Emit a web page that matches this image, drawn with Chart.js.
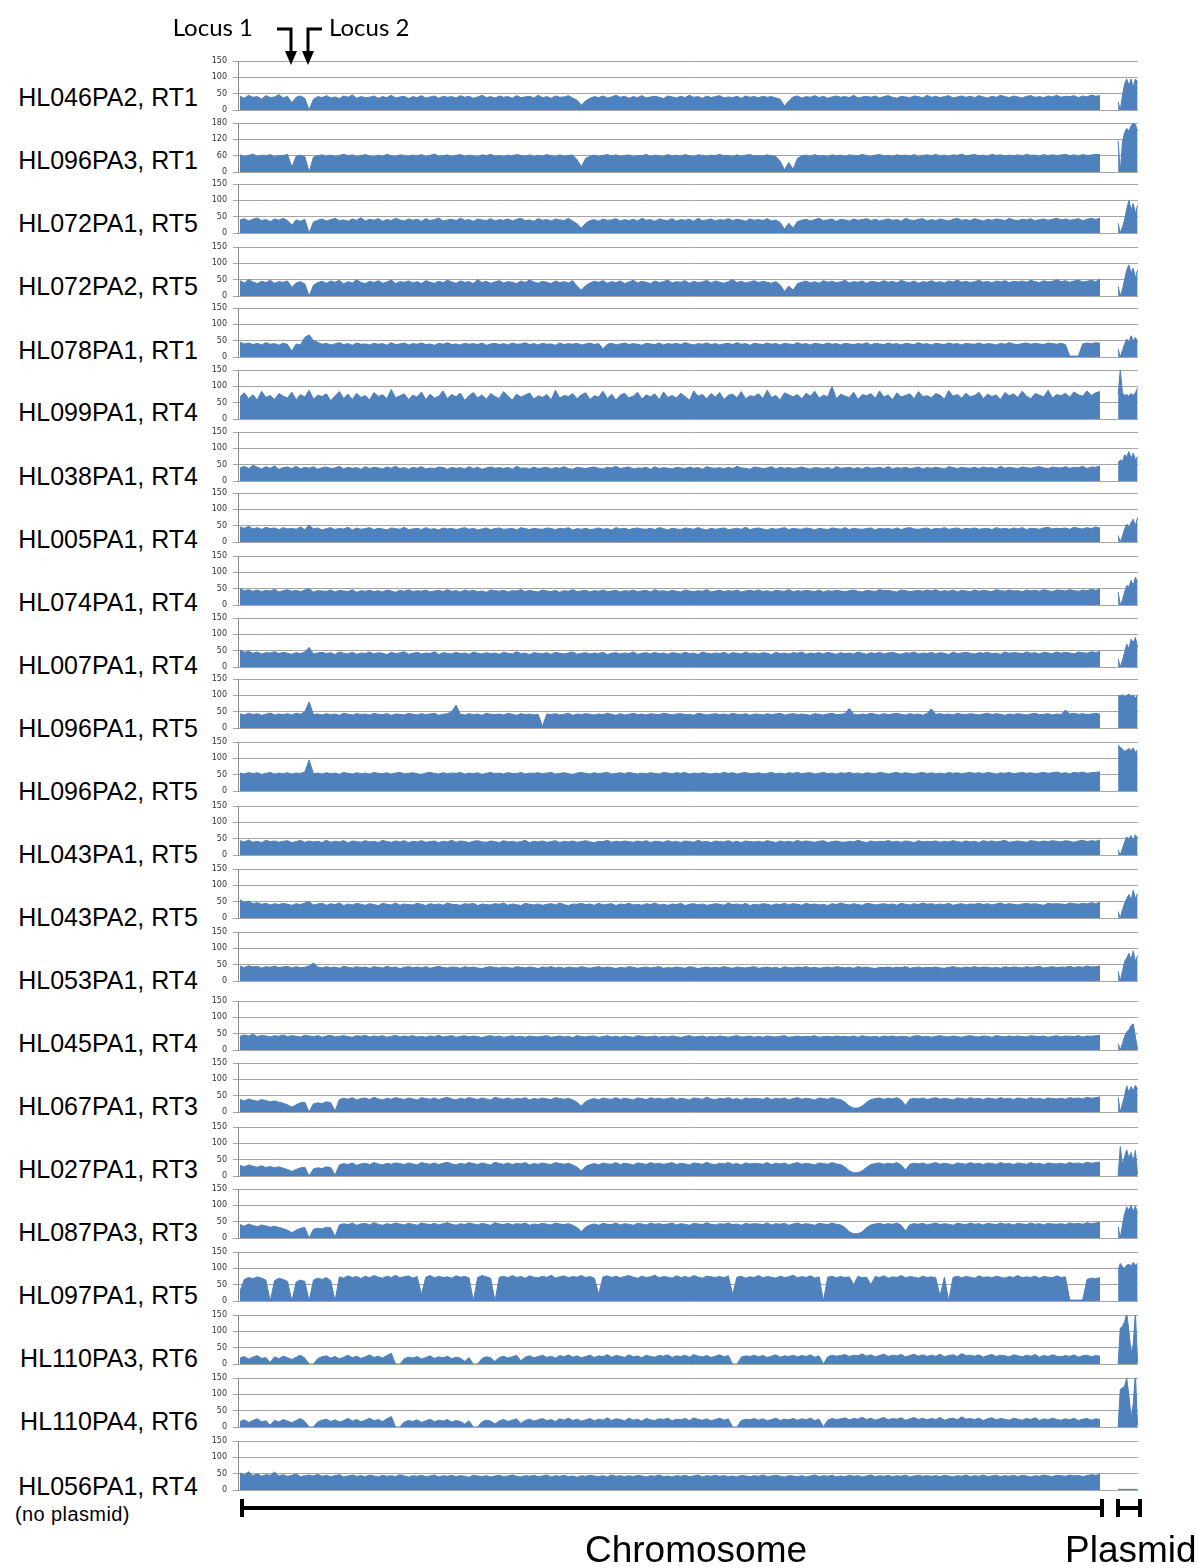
<!DOCTYPE html>
<html>
<head>
<meta charset="utf-8">
<script src="https://cdn.jsdelivr.net/npm/chart.js@4.4.1/dist/chart.umd.min.js"></script>
<style>
body { margin: 0; background: #fff; width: 1200px; height: 1568px; position: relative; overflow: hidden; }
.rowLabel { position: absolute; right: 1002px; font-family: Arial, "Liberation Sans", sans-serif; font-size: 25px; line-height: 25px; color: #000; white-space: nowrap; }
.note { position: absolute; left: 15px; font-family: Arial, "Liberation Sans", sans-serif; font-size: 20px; line-height: 20px; letter-spacing: 0.4px; color: #000; }
canvas { position: absolute; z-index: 1; }
svg { position: absolute; left: 0; top: 0; z-index: 2; }
</style>
</head>
<body>
<svg width="1200" height="1568">
  <text x="253" y="36" text-anchor="end" font-family="Lato, 'Open Sans', sans-serif" font-size="24">Locus 1</text>
  <text x="329" y="36" font-family="Lato, 'Open Sans', sans-serif" font-size="24">Locus 2</text>
  <path d="M277,29 H291 V53" stroke="#000" stroke-width="3" fill="none"/>
  <path d="M285,51 L297,51 L291,65 Z" fill="#000"/>
  <path d="M322,29 H308 V53" stroke="#000" stroke-width="3" fill="none"/>
  <path d="M302,51 L314,51 L308,65 Z" fill="#000"/>
  <path d="M242,1508 H1102 M242,1499 V1517 M1102,1499 V1517" stroke="#000" stroke-width="4" fill="none"/>
  <path d="M1118,1508 H1140 M1118,1499 V1517 M1140,1499 V1517" stroke="#000" stroke-width="4" fill="none"/>
  <text x="696" y="1562" text-anchor="middle" font-family="Arial, 'Liberation Sans', sans-serif" font-size="37">Chromosome</text>
  <text x="1065" y="1562" font-family="Arial, 'Liberation Sans', sans-serif" font-size="37">Plasmid</text>
</svg>
<script>
// sample names and y axis
var sampleLabels = ["HL046PA2, RT1", "HL096PA3, RT1", "HL072PA1, RT5", "HL072PA2, RT5", "HL078PA1, RT1",
    "HL099PA1, RT4", "HL038PA1, RT4", "HL005PA1, RT4", "HL074PA1, RT4", "HL007PA1, RT4",
    "HL096PA1, RT5", "HL096PA2, RT5", "HL043PA1, RT5", "HL043PA2, RT5", "HL053PA1, RT4",
    "HL045PA1, RT4", "HL067PA1, RT3", "HL027PA1, RT3", "HL087PA3, RT3", "HL097PA1, RT5",
    "HL110PA3, RT6", "HL110PA4, RT6", "HL056PA1, RT4"];
var axisMax  = [150,180,150,150,150,150,150,150,150,150,150,150,150,150,150,150,150,150,150,150,150,150,150];
var axisStep = [50,60,50,50,50,50,50,50,50,50,50,50,50,50,50,50,50,50,50,50,50,50,50];

// genome bins: 200 chromosome bins (0..199), plasmid bins after a small gap
var chromosomeBins = 200;
var gapBin = 201;
var plasmidStart = 203.2;
var plasmidStep = 0.5;

// coverage per chromosome bin
var chr046PA2 = [42,36,45,39,41,34,44,38,40,47, 37,42,22,39,43,36,0,33,41,38, 44,37,40,35,43,39,46,36,41,38, 39,43,36,41,38,45,37,40,42,35,
    41,38,44,37,40,43,36,42,39,41, 37,44,39,42,36,40,45,38,41,37, 43,39,41,36,44,38,40,42,37,45, 38,41,36,43,39,40,44,37,30,15,
    28,36,41,38,43,37,40,45,39,42, 36,41,38,44,37,40,42,39,35,43, 40,37,42,38,45,39,41,36,43,38, 41,44,37,40,38,42,36,43,39,41,
    38,42,39,41,37,33,12,28,40,43, 37,41,39,44,38,42,36,40,43,39, 41,38,45,37,40,42,39,43,37,41, 44,39,36,42,40,38,43,41,37,45,
    39,42,38,41,44,37,40,43,39,42, 38,44,40,37,42,39,45,41,38,43, 40,37,42,44,39,41,38,43,40,45, 39,42,41,44,38,43,40,46,42,44];
var chr096PA3 = [63,57,61,66,58,62,59,64,56,61, 60,65,18,58,62,57,0,55,60,63, 58,62,56,61,65,59,63,57,60,64, 59,56,62,58,65,60,57,63,61,58,
    62,59,64,57,61,66,58,60,63,57, 61,64,58,62,59,56,63,60,65,58, 60,57,62,59,64,61,58,63,57,62, 59,64,60,57,63,58,61,62,45,20,
    50,58,62,57,61,64,59,63,58,60, 63,57,61,59,65,58,62,60,57,64, 59,62,58,64,60,57,63,61,58,62, 60,65,59,61,57,63,58,62,64,59,
    61,58,63,60,57,40,8,35,10,50, 60,62,58,64,59,61,57,63,60,62, 58,63,61,59,65,60,57,62,64,59, 61,58,63,60,62,59,64,57,61,63,
    60,65,59,62,58,63,61,66,59,62, 64,60,62,58,65,61,63,59,62,60, 63,59,65,61,62,58,64,60,63,61, 62,65,60,63,59,64,61,62,65,63];
var chr072PA1 = [40,44,37,42,46,38,41,35,43,39, 45,38,24,40,36,42,0,34,39,43, 37,41,45,38,40,36,43,39,47,37, 42,39,44,36,41,38,45,40,37,43,
    39,42,36,44,38,41,46,37,40,42, 38,45,39,41,36,43,40,38,44,37, 41,39,43,37,42,45,38,40,36,44, 39,41,37,43,40,38,45,36,28,15,
    30,38,41,36,43,39,40,44,37,41, 38,42,37,45,39,41,36,43,40,38, 44,37,41,39,42,36,45,38,40,43, 37,41,39,44,38,42,40,36,43,39,
    41,38,44,37,40,32,12,30,15,35, 39,42,37,41,45,38,40,43,36,42, 40,37,43,39,41,44,38,42,37,40, 43,39,41,36,45,40,38,42,44,37,
    41,38,43,40,37,42,45,39,41,38, 44,40,37,42,39,43,41,38,45,40, 38,42,40,44,37,41,43,39,42,45, 40,43,39,41,44,38,42,45,41,46];
var chr072PA2 = [47,40,50,43,38,45,41,48,39,44, 42,46,26,40,44,37,0,33,41,45, 39,46,42,48,37,44,40,50,41,38, 45,41,47,39,43,49,38,44,42,46,
    40,44,38,47,42,39,45,41,48,43, 39,46,42,44,38,50,41,45,39,43, 47,40,44,42,38,46,41,49,43,39, 45,42,38,46,41,44,40,47,30,18,
    32,40,45,42,47,39,44,41,46,38, 43,48,40,45,42,38,46,41,44,49, 40,44,42,47,39,45,41,43,48,40, 46,42,39,44,50,41,45,40,43,47,
    41,45,42,39,44,34,14,30,18,38, 42,46,40,44,39,47,42,45,41,43, 48,40,44,42,46,39,45,43,41,47, 42,45,40,48,43,41,46,39,44,42,
    47,41,44,40,46,43,49,42,45,41, 44,48,42,45,40,46,43,47,41,45, 43,46,42,48,44,41,47,43,45,50, 44,47,42,46,49,43,45,48,44,52];
var chr078PA1 = [45,40,43,38,42,37,44,39,41,36, 43,38,18,40,37,60,68,50,45,39, 42,37,40,44,38,41,36,43,39,40, 37,42,39,41,36,44,38,40,43,37,
    41,39,43,38,40,36,42,39,44,38, 40,37,42,39,41,38,43,36,40,42, 38,41,37,43,39,40,44,38,41,37, 42,39,40,36,43,38,41,39,42,37,
    40,43,38,41,25,39,42,37,40,43, 38,41,39,36,42,40,38,43,37,41, 39,42,38,44,40,37,41,39,43,38, 41,37,40,42,38,44,39,41,36,42,
    40,38,43,39,41,37,42,40,38,44, 39,41,37,42,40,38,43,39,41,37, 42,40,38,41,39,44,37,42,40,38, 43,39,41,37,42,40,38,44,39,41,
    37,42,40,38,43,39,41,37,42,40, 39,43,38,41,40,37,42,39,44,40, 38,41,43,39,42,40,38,43,41,39, 42,38,3,3,3,40,43,41,44,42];
var chr099PA1 = [68,80,62,74,58,85,66,72,60,78, 70,64,82,59,75,67,88,61,73,69, 77,56,71,84,63,76,60,79,66,72, 58,81,69,74,62,90,65,71,77,60,
    73,67,83,59,76,64,70,86,62,75, 68,79,57,72,81,65,74,60,78,69, 63,84,70,58,76,67,73,80,61,71, 66,75,59,88,64,72,69,78,62,74,
    80,60,71,67,85,63,76,58,73,79, 65,70,82,61,74,68,77,59,83,66, 72,64,79,69,57,86,70,75,62,78, 67,81,60,73,76,65,84,62,71,69,
    77,63,88,66,72,59,80,74,68,75, 61,79,70,85,64,73,68,100,62,76, 70,66,82,60,75,71,78,63,86,67, 74,59,80,68,72,77,62,84,69,71,
    65,78,73,61,87,70,75,64,79,68, 72,82,63,76,69,74,60,81,71,77, 66,85,70,62,78,73,68,88,64,75, 71,79,67,83,74,70,86,72,80,84];
var chr038PA1 = [40,45,38,48,42,37,44,39,46,36, 41,43,38,45,37,42,39,44,36,41, 43,38,40,45,37,42,39,41,36,44, 38,42,40,37,43,39,45,38,41,36,
    42,39,44,37,40,38,43,41,36,42, 39,41,37,44,38,42,36,40,43,39, 41,38,42,36,45,39,40,37,43,38, 40,42,37,41,39,44,38,36,42,40,
    38,41,43,39,37,42,40,45,38,41, 43,37,40,39,42,36,44,38,41,39, 37,42,40,38,43,39,41,36,44,40, 39,41,37,42,38,45,40,39,36,43,
    41,38,40,44,37,42,39,41,38,40, 43,39,37,41,40,38,42,36,44,39, 40,42,38,41,37,43,39,40,42,38, 44,37,41,39,42,38,40,43,37,41,
    39,42,40,37,44,41,38,42,40,39, 42,38,43,40,41,37,45,39,42,40, 38,43,41,39,42,44,40,38,43,41, 40,44,39,42,41,45,38,43,42,46];
var chr005PA1 = [46,42,48,40,44,39,45,41,43,38, 44,40,42,39,46,38,52,40,43,37, 41,44,38,42,40,45,37,43,39,41, 44,38,42,40,37,43,41,39,45,38,
    40,42,38,44,39,41,37,43,40,42, 38,41,44,39,42,37,40,43,38,41, 43,39,40,42,37,44,41,38,42,40, 39,43,41,38,42,40,44,37,41,39,
    42,38,40,43,39,41,37,44,40,42, 38,41,43,40,39,42,38,44,41,37, 42,40,38,43,41,39,44,40,37,42, 39,41,43,38,40,42,39,45,38,41,
    43,40,37,42,39,41,44,38,42,40, 39,43,41,37,42,40,38,43,41,39, 44,38,42,40,39,41,43,37,42,40, 41,39,43,38,42,44,40,39,41,43,
    38,42,40,44,39,41,43,38,42,40, 43,39,41,42,38,44,40,42,39,43, 40,44,38,42,41,39,43,45,40,42, 41,43,39,45,42,40,44,41,46,43];
var chr074PA1 = [50,44,47,42,46,41,45,43,48,40, 44,47,42,45,41,46,50,40,44,43, 42,46,40,45,43,41,47,39,44,42, 45,41,44,40,46,43,39,45,42,47,
    41,44,42,46,40,43,45,41,47,42, 44,40,46,42,45,41,43,39,46,44, 42,45,40,44,43,47,41,45,42,40, 46,43,41,45,39,44,42,47,41,43,
    45,40,44,42,46,41,43,45,40,44, 42,46,41,43,45,40,47,42,44,41, 45,42,40,46,43,41,44,42,47,40, 43,45,41,44,42,46,40,43,45,42,
    46,41,44,40,45,43,42,47,41,44, 42,45,43,41,46,40,44,42,45,43, 41,44,46,42,40,45,43,41,47,44, 45,42,40,46,44,41,43,45,42,46,
    43,47,41,44,42,46,40,45,43,41, 46,42,45,43,41,47,44,42,46,43, 44,41,46,43,45,42,47,44,41,46, 45,43,47,44,42,46,44,48,45,49];
var chr007PA1 = [52,45,48,42,46,40,44,43,47,41, 45,42,39,44,41,46,60,40,43,45, 41,44,38,46,42,40,45,39,43,41, 46,40,44,42,38,45,41,43,47,39,
    42,45,40,43,41,47,38,44,42,40, 45,41,43,39,46,42,40,44,41,43, 39,45,42,40,47,41,43,38,44,42, 41,44,39,45,42,40,43,46,39,42,
    44,40,43,41,45,38,42,44,40,43, 41,46,39,42,44,40,45,41,43,39, 44,42,40,45,41,43,38,46,42,40, 43,41,45,39,44,42,40,46,41,43,
    40,44,42,38,45,41,43,40,44,42, 46,39,43,41,44,40,45,42,39,44, 41,43,40,46,42,39,44,41,45,40, 43,45,41,39,44,42,46,40,43,41,
    45,40,44,42,38,46,41,43,45,42, 40,44,42,45,41,43,39,46,42,44, 43,41,46,42,44,40,45,43,41,46, 42,45,43,40,46,44,42,47,44,48];
var chr096PA1 = [43,40,45,41,44,39,42,46,40,43, 41,44,40,45,42,50,80,41,43,40, 44,41,43,39,45,42,40,44,41,43, 40,45,42,41,44,39,43,42,40,45,
    42,40,44,41,43,45,39,42,44,50, 70,42,40,44,41,43,39,45,42,41, 43,40,45,42,39,44,41,43,40,42, 5,43,41,44,40,42,45,39,43,41,
    44,42,40,43,41,45,42,39,44,40, 42,45,41,43,40,44,42,41,45,43, 40,43,44,41,42,39,45,43,40,42, 44,41,43,40,45,42,41,44,39,43,
    42,40,44,41,43,45,40,42,44,41, 43,41,39,44,42,40,43,45,41,42, 44,60,42,40,43,41,45,42,40,44, 41,43,45,42,40,44,41,43,39,45,
    58,42,44,41,43,40,45,42,41,44, 42,40,43,45,41,44,42,39,43,41, 44,42,40,43,45,41,42,44,40,43, 41,55,43,45,42,44,41,43,45,42];
var chr096PA2 = [55,52,57,53,56,51,54,57,52,55, 53,56,52,55,54,58,95,53,55,52, 56,53,55,51,57,54,52,56,53,55, 52,57,54,53,56,52,55,57,53,54,
    56,53,51,55,57,54,52,56,53,55, 54,57,52,55,53,56,51,54,57,53, 55,52,56,54,53,57,52,55,54,56, 53,55,57,52,54,56,53,51,55,57,
    54,52,56,53,55,57,52,54,56,53, 57,54,52,55,53,56,54,52,57,55, 53,56,54,57,52,55,53,56,54,52, 55,53,57,54,56,52,55,57,53,54,
    56,52,54,57,53,55,52,56,54,57, 53,55,56,52,54,57,53,55,52,56, 54,57,53,55,52,56,54,53,57,55, 52,55,57,53,56,54,52,55,57,53,
    56,53,55,52,57,54,56,53,55,57, 54,56,53,57,55,52,56,54,57,53, 55,57,54,56,53,55,57,54,56,58, 54,56,53,57,55,58,54,56,57,59];
var chr043PA1 = [44,40,46,39,42,38,45,41,43,39, 42,44,38,41,45,39,43,40,42,38, 45,39,42,40,44,37,43,41,39,44, 40,42,38,45,41,39,43,40,44,38,
    42,40,44,39,41,43,38,42,40,45, 39,43,41,38,42,44,40,39,43,41, 38,44,40,42,39,41,45,38,42,40, 43,39,41,44,38,42,40,43,39,41,
    44,40,38,42,41,45,39,42,40,43, 41,39,43,40,44,38,42,41,39,44, 40,42,38,43,41,39,45,40,42,38, 43,41,40,44,39,42,38,43,41,40,
    42,39,44,41,38,43,40,42,39,45, 40,43,41,39,42,44,38,41,43,40, 39,42,40,45,41,38,43,40,42,41, 44,40,42,39,43,41,38,44,40,42,
    41,43,39,42,40,44,41,39,43,40, 42,38,44,41,43,40,42,45,39,41, 43,41,39,44,42,40,43,41,44,42, 40,44,42,39,43,45,41,44,42,46];
var chr043PA2 = [56,48,52,44,47,42,45,40,44,41, 45,42,39,44,41,46,50,40,43,45, 39,44,41,46,38,43,40,45,42,39, 44,41,38,45,42,40,46,39,43,41,
    40,45,42,38,44,41,43,39,46,42, 41,39,44,42,45,38,43,41,40,44, 42,46,39,43,41,38,45,42,40,43, 39,42,44,40,46,41,38,43,42,45,
    41,43,39,45,40,42,44,38,43,41, 45,40,42,39,44,41,46,40,42,39, 43,41,45,38,42,44,40,43,39,41, 44,42,39,46,41,43,40,45,38,42,
    40,44,42,39,43,41,45,40,44,42, 39,45,41,43,40,42,38,44,41,46, 42,40,44,41,39,45,43,40,42,44, 41,43,39,45,42,40,44,41,46,42,
    44,40,43,41,45,39,42,44,40,43, 42,45,41,44,40,43,46,41,44,42, 40,43,45,42,44,41,39,45,43,44, 43,41,46,44,42,45,43,47,44,48];
var chr053PA1 = [46,41,47,43,45,40,44,42,46,41, 43,45,40,44,41,42,46,55,43,40, 44,41,43,39,45,42,40,44,41,43, 39,44,42,40,45,41,43,38,42,44,
    41,43,40,44,39,42,45,41,40,43, 42,39,44,41,43,40,38,42,44,41, 40,43,41,39,44,42,40,43,41,38, 43,41,44,40,42,39,43,41,40,44,
    41,39,42,44,40,43,41,38,42,40, 44,42,39,41,43,40,42,44,39,41, 40,43,41,39,44,42,38,41,43,40, 42,40,44,41,39,43,41,40,42,44,
    39,41,43,40,42,38,44,41,40,43, 41,44,40,42,39,41,43,40,44,42, 40,42,39,44,41,43,40,38,42,41, 43,40,42,41,44,39,41,43,40,42,
    41,43,40,39,42,44,41,40,43,41, 44,41,43,42,40,42,39,44,41,43, 42,40,44,41,43,45,40,42,44,41, 43,42,45,41,44,42,46,43,44,46];
var chr045PA1 = [42,46,43,48,41,45,43,40,44,42, 46,41,44,42,40,45,43,41,44,39, 43,45,40,42,44,41,39,44,42,45, 40,43,41,44,39,42,45,40,43,41,
    44,40,42,39,43,41,45,40,42,44, 39,42,44,40,43,41,38,42,44,40, 43,39,41,44,40,42,39,43,41,40, 42,44,39,41,43,40,42,38,44,41,
    40,42,43,39,41,44,40,42,39,43, 41,39,44,42,40,41,43,39,42,40, 43,41,38,42,44,40,41,43,39,42, 40,43,41,39,42,44,40,41,43,39,
    42,39,43,41,40,42,44,39,41,43, 40,42,41,44,39,41,42,40,43,41, 42,40,43,39,44,41,40,42,39,43, 41,43,40,42,41,39,43,44,40,42,
    39,42,44,41,40,43,41,39,42,44, 41,40,43,42,39,44,42,40,43,41, 43,41,40,44,42,41,43,39,42,44, 40,43,42,41,44,40,43,42,44,45];
var chr067PA1 = [38,34,40,36,33,38,35,31,34,30, 27,22,15,22,28,30,0,25,28,26, 31,29,3,38,42,39,44,37,41,43, 38,45,40,37,42,39,44,41,38,43,
    40,37,44,41,39,43,38,42,45,40, 37,42,39,44,41,38,43,40,37,45, 41,39,43,38,42,40,44,37,41,39, 43,40,38,44,41,39,42,37,30,18,
    32,38,41,37,43,40,39,44,38,42, 40,37,43,41,38,44,40,42,39,41, 44,38,42,40,37,43,41,39,45,40, 38,42,40,44,39,41,37,43,40,42,
    41,39,44,38,42,40,43,37,41,44, 39,42,40,37,43,41,39,44,40,38, 30,18,12,12,18,30,38,41,43,39, 42,40,44,37,20,39,42,40,43,38,
    41,44,39,42,40,37,43,41,39,44, 40,42,38,43,41,39,44,40,42,38, 43,41,39,44,40,42,38,43,41,40, 42,39,44,41,43,40,45,42,44,46];
var chr027PA1 = [32,28,34,30,27,31,26,29,25,28, 24,20,14,20,25,27,0,22,25,23, 28,26,3,34,38,35,40,33,37,39, 35,41,37,34,39,36,40,38,35,40,
    37,34,41,38,36,40,35,39,42,37, 34,39,36,41,38,35,40,37,34,42, 38,36,40,35,39,37,41,34,38,36, 40,37,35,41,38,36,39,34,27,16,
    29,35,38,34,40,37,36,41,35,39, 37,34,40,38,35,41,37,39,36,38, 41,35,39,37,34,40,38,36,42,37, 35,39,37,41,36,38,34,40,37,39,
    38,36,41,35,39,37,40,34,38,41, 36,39,37,34,40,38,36,41,37,35, 27,16,10,10,16,27,35,38,40,36, 39,37,41,34,18,36,39,37,40,35,
    38,41,36,39,37,34,40,38,36,41, 37,39,35,40,38,36,41,37,39,35, 40,38,36,41,37,39,35,40,38,37, 39,36,41,38,40,37,42,39,41,43];
var chr087PA3 = [41,36,43,38,35,40,37,33,36,32, 29,24,16,24,30,32,0,27,30,28, 33,31,4,40,44,41,46,39,43,45, 40,47,42,39,44,41,46,43,40,45,
    42,39,46,43,41,45,40,44,47,42, 39,44,41,46,43,40,45,42,39,47, 43,41,45,40,44,42,46,39,43,41, 45,42,40,46,43,41,44,39,32,19,
    34,40,43,39,45,42,41,46,40,44, 42,39,45,43,40,46,42,44,41,43, 46,40,44,42,39,45,43,41,47,42, 40,44,42,46,41,43,39,45,42,44,
    43,41,46,40,44,42,45,39,43,46, 41,44,42,39,45,43,41,46,42,40, 32,19,13,13,19,32,40,43,45,41, 44,42,46,39,22,41,44,42,45,40,
    43,46,41,44,42,39,45,43,41,46, 42,44,40,45,43,41,46,42,44,40, 45,43,41,46,42,44,40,45,43,42, 44,41,46,43,45,42,47,44,46,48];
var chr097PA1 = [30,66,72,68,74,70,64,0,62,70, 66,60,0,58,64,60,0,64,70,66, 72,62,0,74,70,77,72,75,69,76, 71,78,73,70,76,72,79,71,74,77,
    70,75,20,73,78,71,76,72,74,70, 77,73,75,71,0,72,78,74,70,0, 73,76,71,78,72,75,70,77,73,71, 76,72,79,70,74,77,71,75,73,78,
    72,75,70,20,74,77,72,76,71,75, 78,73,70,76,72,74,79,71,75,73, 70,77,72,75,71,78,73,70,76,74, 72,75,71,77,20,73,76,70,74,72,
    78,71,75,73,70,76,72,74,79,71, 75,72,77,70,74,0,73,76,71,75, 72,74,50,76,71,73,50,75,72,77, 70,74,72,78,71,75,73,70,76,72,
    74,71,15,73,0,72,76,71,75,73, 70,77,72,74,71,76,73,70,75,72, 78,71,74,72,76,70,75,73,71,77, 72,74,3,3,3,3,66,70,68,72];
var chr110PA3 = [18,23,15,21,26,17,20,5,22,16, 24,19,14,21,27,18,0,0,17,22, 25,18,23,16,21,27,19,24,17,22, 28,20,24,18,26,33,0,0,16,21,
    18,23,15,20,25,17,22,19,24,16, 21,18,8,20,0,0,17,22,19,8, 20,24,18,22,26,10,21,25,19,23, 27,20,24,18,26,22,28,21,25,19,
    23,27,20,25,22,29,21,26,24,20, 28,22,25,19,27,23,21,26,24,28, 20,25,23,27,21,29,24,22,26,20, 24,28,22,26,0,0,21,25,23,27,
    22,26,20,24,28,21,25,23,27,22, 26,23,28,21,25,0,22,27,24,26, 29,23,27,25,31,24,28,22,26,30, 23,27,25,29,22,26,30,24,28,23,
    27,24,30,22,26,28,23,32,25,27, 24,28,21,26,29,23,27,25,22,28, 25,22,27,24,29,21,26,23,28,24, 22,26,23,28,21,25,27,22,26,24];
var chr110PA4 = [17,22,14,20,25,16,19,6,21,15, 23,18,13,20,26,17,0,0,16,21, 24,17,22,15,20,26,18,23,16,21, 27,19,23,17,25,32,0,0,15,20,
    17,22,14,19,24,16,21,18,23,15, 20,17,9,19,0,0,16,21,18,9, 19,23,17,21,25,11,20,24,18,22, 26,19,23,17,25,21,27,20,24,18,
    22,26,19,24,21,28,20,25,23,19, 27,21,24,18,26,22,20,25,23,27, 19,24,22,26,20,28,23,21,25,19, 23,27,21,25,0,0,20,24,22,26,
    21,25,19,23,27,20,24,22,26,21, 25,22,27,20,24,0,21,26,23,25, 28,22,26,24,30,23,27,21,25,29, 22,26,24,28,21,25,29,23,27,22,
    26,23,29,21,25,27,22,31,24,26, 23,27,20,25,28,22,26,24,21,27, 24,21,26,23,28,20,25,22,27,23, 21,25,22,27,20,24,26,21,25,23];
var chr056PA1 = [52,46,56,44,50,42,47,45,55,43, 47,42,45,49,41,44,46,43,48,42, 45,41,44,47,40,43,46,42,44,41, 46,43,40,45,42,44,41,47,43,40,
    44,42,45,41,43,46,40,44,42,45, 41,44,42,39,45,43,41,44,40,43, 45,41,43,46,42,40,44,42,45,41, 43,46,40,44,42,45,41,43,39,44,
    42,45,43,41,44,40,46,42,44,41, 44,41,45,43,40,44,42,46,41,43, 40,44,42,45,41,43,46,40,44,42, 45,42,44,41,43,40,45,43,41,44,
    42,46,41,43,45,42,40,44,43,41, 44,40,43,46,41,44,42,45,40,43, 41,45,42,44,40,43,46,41,44,42, 45,41,44,42,46,40,43,45,42,44,
    42,44,41,45,43,40,44,42,46,41, 44,42,46,41,43,45,41,44,42,45, 41,45,43,40,44,42,46,43,41,45, 44,42,46,43,45,41,44,47,45,48];

// coverage per plasmid bin
var pls046PA2 = [25,0,45,80,95,75,95,70,95,85];
var pls096PA3 = [115,0,110,145,160,150,170,180,175,150];
var pls072PA1 = [30,0,18,40,75,100,70,90,60,85];
var pls072PA2 = [30,0,20,50,80,95,70,85,55,80];
var pls078PA1 = [25,0,20,40,55,45,65,50,60,45];
var pls099PA1 = [75,150,80,72,75,70,78,72,80,95];
var pls038PA1 = [55,65,60,80,75,90,70,85,65,75];
var pls005PA1 = [20,0,18,40,55,45,60,70,50,75];
var pls074PA1 = [40,0,15,40,60,55,75,60,85,70];
var pls007PA1 = [25,0,20,45,70,55,85,75,90,60];
var pls096PA1 = [100,98,102,96,100,104,97,100,92,100];
var pls096PA2 = [140,135,128,122,125,130,124,132,118,126];
var pls043PA1 = [15,0,20,40,55,50,60,45,62,50];
var pls043PA2 = [20,0,25,45,60,72,55,85,60,75];
var pls053PA1 = [30,0,30,60,70,85,65,92,60,78];
var pls045PA1 = [20,0,20,42,55,62,75,80,40,3];
var pls067PA1 = [45,0,25,50,80,60,78,65,82,70];
var pls027PA1 = [0,90,35,60,80,55,72,45,78,5];
var pls087PA3 = [35,0,40,75,95,85,100,80,98,75];
var pls097PA1 = [95,115,105,100,110,112,108,118,110,115];
var pls110PA3 = [0,110,115,130,155,100,35,60,160,5];
var pls110PA4 = [0,115,120,125,150,95,30,70,165,5];
var pls056PA1 = [2,2,2,2,2,2,2,2,2,2];

var chromosomeSeries = [chr046PA2, chr096PA3, chr072PA1, chr072PA2, chr078PA1, chr099PA1, chr038PA1, chr005PA1,
    chr074PA1, chr007PA1, chr096PA1, chr096PA2, chr043PA1, chr043PA2, chr053PA1, chr045PA1, chr067PA1,
    chr027PA1, chr087PA3, chr097PA1, chr110PA3, chr110PA4, chr056PA1];
var plasmidSeries = [pls046PA2, pls096PA3, pls072PA1, pls072PA2, pls078PA1, pls099PA1, pls038PA1, pls005PA1,
    pls074PA1, pls007PA1, pls096PA1, pls096PA2, pls043PA1, pls043PA2, pls053PA1, pls045PA1, pls067PA1,
    pls027PA1, pls087PA3, pls097PA1, pls110PA3, pls110PA4, pls056PA1];

// layout
var rowTop = [61,123,184,247,308,370,432,493,556,618,679,742,806,869,932,1001,1063,1127,1189,1252,1315,1378,1441];
var labelMid = [97,160,223,286,350,412,476,539,602,665,728,791,854,917,980,1043,1106,1169,1232,1295,1358,1421,1486];
var rowHeight = 49;
var tickFont = 8;
var tickPad = 6;
var pad = tickFont / 2 + tickPad; // space the y scale keeps above and below the plot

function drawRow(i) {
    var canvas = document.createElement("canvas");
    canvas.width = 938;
    canvas.height = rowHeight + pad * 2;
    canvas.style.left = "200px";
    canvas.style.top = (rowTop[i] - pad) + "px";
    document.body.appendChild(canvas);

    var label = document.createElement("div");
    label.className = "rowLabel";
    label.style.top = (labelMid[i] - 12) + "px";
    label.textContent = sampleLabels[i];
    document.body.appendChild(label);

    var points = chromosomeSeries[i].map(function(v, k) { return {x: k, y: v}; });
    points.push({x: gapBin, y: null});
    plasmidSeries[i].forEach(function(v, k) { points.push({x: plasmidStart + k * plasmidStep, y: v}); });

    new Chart(canvas, {
        type: 'line',
        data: {
            datasets: [{
                data: points,
                borderColor: "#4f81bd",
                backgroundColor: "#4f81bd",
                borderWidth: 1,
                pointRadius: 0,
                tension: 0,
                fill: 'origin',
                spanGaps: false
            }]
        },
        options: {
            responsive: false,
            animation: false,
            events: [],
            layout: { padding: 0 },
            plugins: { legend: { display: false }, tooltip: { enabled: false } },
            scales: {
                x: { type: 'linear', display: false, min: -0.46, max: 207.8 },
                y: {
                    min: 0,
                    max: axisMax[i],
                    ticks: { stepSize: axisStep[i], padding: tickPad, color: "#333", font: { family: "DejaVu Sans", size: tickFont, lineHeight: 1 } },
                    grid: { color: "#a6a6a6", tickLength: 5 },
                    border: { color: "#8c8c8c" },
                    afterFit: function(scale) { scale.width = 38; }
                }
            }
        }
    });
}

for (var i = 0; i < sampleLabels.length; i++) {
    drawRow(i);
}

var note = document.createElement("div");
note.className = "note";
note.style.top = "1504px";
note.textContent = "(no plasmid)";
document.body.appendChild(note);
</script>
</body>
</html>
